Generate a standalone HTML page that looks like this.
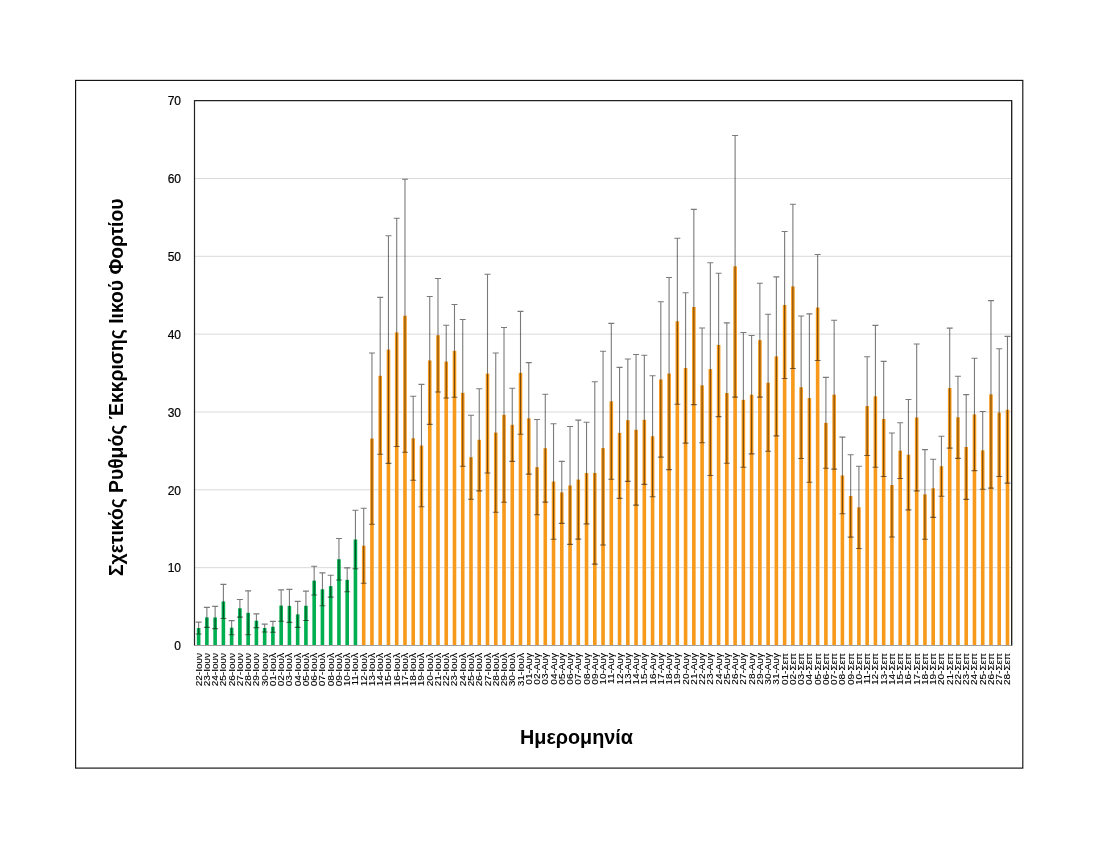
<!DOCTYPE html><html><head><meta charset="utf-8"><style>html,body{margin:0;padding:0;background:#fff;}svg{display:block;will-change:transform;}text{font-family:"Liberation Sans",sans-serif;}</style></head><body>
<svg width="1100" height="850" viewBox="0 0 1100 850">
<rect x="0" y="0" width="1100" height="850" fill="#fff"/>
<rect x="75.6" y="80.4" width="947.1999999999999" height="687.7" fill="none" stroke="#111" stroke-width="1.15"/>
<line x1="194.50" y1="567.66" x2="1011.60" y2="567.66" stroke="#d9d9d9" stroke-width="1"/>
<line x1="194.50" y1="489.81" x2="1011.60" y2="489.81" stroke="#d9d9d9" stroke-width="1"/>
<line x1="194.50" y1="411.97" x2="1011.60" y2="411.97" stroke="#d9d9d9" stroke-width="1"/>
<line x1="194.50" y1="334.13" x2="1011.60" y2="334.13" stroke="#d9d9d9" stroke-width="1"/>
<line x1="194.50" y1="256.29" x2="1011.60" y2="256.29" stroke="#d9d9d9" stroke-width="1"/>
<line x1="194.50" y1="178.44" x2="1011.60" y2="178.44" stroke="#d9d9d9" stroke-width="1"/>
<rect x="196.83" y="628.05" width="3.60" height="17.45" fill="#00b050"/>
<rect x="205.08" y="617.40" width="3.60" height="28.10" fill="#00b050"/>
<rect x="213.33" y="617.50" width="3.60" height="28.00" fill="#00b050"/>
<rect x="221.59" y="601.45" width="3.60" height="44.05" fill="#00b050"/>
<rect x="229.84" y="627.70" width="3.60" height="17.80" fill="#00b050"/>
<rect x="238.09" y="608.30" width="3.60" height="37.20" fill="#00b050"/>
<rect x="246.35" y="612.85" width="3.60" height="32.65" fill="#00b050"/>
<rect x="254.60" y="620.73" width="3.60" height="24.77" fill="#00b050"/>
<rect x="262.86" y="628.05" width="3.60" height="17.45" fill="#00b050"/>
<rect x="271.11" y="626.80" width="3.60" height="18.70" fill="#00b050"/>
<rect x="279.36" y="605.60" width="3.60" height="39.90" fill="#00b050"/>
<rect x="287.62" y="605.90" width="3.60" height="39.60" fill="#00b050"/>
<rect x="295.87" y="614.40" width="3.60" height="31.10" fill="#00b050"/>
<rect x="304.12" y="605.80" width="3.60" height="39.70" fill="#00b050"/>
<rect x="312.38" y="580.65" width="3.60" height="64.85" fill="#00b050"/>
<rect x="320.63" y="589.30" width="3.60" height="56.20" fill="#00b050"/>
<rect x="328.88" y="586.15" width="3.60" height="59.35" fill="#00b050"/>
<rect x="337.14" y="559.25" width="3.60" height="86.25" fill="#00b050"/>
<rect x="345.39" y="579.85" width="3.60" height="65.65" fill="#00b050"/>
<rect x="353.64" y="539.50" width="3.60" height="106.00" fill="#00b050"/>
<rect x="361.90" y="545.75" width="3.60" height="99.75" fill="#f7991a"/>
<rect x="370.15" y="438.60" width="3.60" height="206.90" fill="#f7991a"/>
<rect x="378.40" y="375.80" width="3.60" height="269.70" fill="#f7991a"/>
<rect x="386.66" y="349.60" width="3.60" height="295.90" fill="#f7991a"/>
<rect x="394.91" y="332.40" width="3.60" height="313.10" fill="#f7991a"/>
<rect x="403.17" y="315.75" width="3.60" height="329.75" fill="#f7991a"/>
<rect x="411.42" y="438.30" width="3.60" height="207.20" fill="#f7991a"/>
<rect x="419.67" y="445.55" width="3.60" height="199.95" fill="#f7991a"/>
<rect x="427.93" y="360.45" width="3.60" height="285.05" fill="#f7991a"/>
<rect x="436.18" y="335.25" width="3.60" height="310.25" fill="#f7991a"/>
<rect x="444.43" y="361.60" width="3.60" height="283.90" fill="#f7991a"/>
<rect x="452.69" y="350.85" width="3.60" height="294.65" fill="#f7991a"/>
<rect x="460.94" y="392.85" width="3.60" height="252.65" fill="#f7991a"/>
<rect x="469.19" y="457.20" width="3.60" height="188.30" fill="#f7991a"/>
<rect x="477.45" y="439.80" width="3.60" height="205.70" fill="#f7991a"/>
<rect x="485.70" y="373.65" width="3.60" height="271.85" fill="#f7991a"/>
<rect x="493.95" y="432.60" width="3.60" height="212.90" fill="#f7991a"/>
<rect x="502.21" y="414.90" width="3.60" height="230.60" fill="#f7991a"/>
<rect x="510.46" y="424.85" width="3.60" height="220.65" fill="#f7991a"/>
<rect x="518.71" y="372.85" width="3.60" height="272.65" fill="#f7991a"/>
<rect x="526.97" y="418.35" width="3.60" height="227.15" fill="#f7991a"/>
<rect x="535.22" y="467.15" width="3.60" height="178.35" fill="#f7991a"/>
<rect x="543.48" y="448.20" width="3.60" height="197.30" fill="#f7991a"/>
<rect x="551.73" y="481.50" width="3.60" height="164.00" fill="#f7991a"/>
<rect x="559.98" y="492.40" width="3.60" height="153.10" fill="#f7991a"/>
<rect x="568.24" y="485.45" width="3.60" height="160.05" fill="#f7991a"/>
<rect x="576.49" y="479.60" width="3.60" height="165.90" fill="#f7991a"/>
<rect x="584.74" y="473.05" width="3.60" height="172.45" fill="#f7991a"/>
<rect x="593.00" y="472.95" width="3.60" height="172.55" fill="#f7991a"/>
<rect x="601.25" y="448.10" width="3.60" height="197.40" fill="#f7991a"/>
<rect x="609.50" y="401.30" width="3.60" height="244.20" fill="#f7991a"/>
<rect x="617.76" y="432.90" width="3.60" height="212.60" fill="#f7991a"/>
<rect x="626.01" y="420.20" width="3.60" height="225.30" fill="#f7991a"/>
<rect x="634.26" y="429.80" width="3.60" height="215.70" fill="#f7991a"/>
<rect x="642.52" y="419.80" width="3.60" height="225.70" fill="#f7991a"/>
<rect x="650.77" y="436.25" width="3.60" height="209.25" fill="#f7991a"/>
<rect x="659.02" y="379.45" width="3.60" height="266.05" fill="#f7991a"/>
<rect x="667.28" y="373.55" width="3.60" height="271.95" fill="#f7991a"/>
<rect x="675.53" y="321.25" width="3.60" height="324.25" fill="#f7991a"/>
<rect x="683.79" y="367.95" width="3.60" height="277.55" fill="#f7991a"/>
<rect x="692.04" y="307.00" width="3.60" height="338.50" fill="#f7991a"/>
<rect x="700.29" y="385.35" width="3.60" height="260.15" fill="#f7991a"/>
<rect x="708.55" y="369.15" width="3.60" height="276.35" fill="#f7991a"/>
<rect x="716.80" y="344.90" width="3.60" height="300.60" fill="#f7991a"/>
<rect x="725.05" y="393.05" width="3.60" height="252.45" fill="#f7991a"/>
<rect x="733.31" y="266.30" width="3.60" height="379.20" fill="#f7991a"/>
<rect x="741.56" y="399.85" width="3.60" height="245.65" fill="#f7991a"/>
<rect x="749.81" y="394.70" width="3.60" height="250.80" fill="#f7991a"/>
<rect x="758.07" y="340.15" width="3.60" height="305.35" fill="#f7991a"/>
<rect x="766.32" y="382.75" width="3.60" height="262.75" fill="#f7991a"/>
<rect x="774.57" y="356.40" width="3.60" height="289.10" fill="#f7991a"/>
<rect x="782.83" y="305.00" width="3.60" height="340.50" fill="#f7991a"/>
<rect x="791.08" y="286.40" width="3.60" height="359.10" fill="#f7991a"/>
<rect x="799.33" y="387.25" width="3.60" height="258.25" fill="#f7991a"/>
<rect x="807.59" y="398.05" width="3.60" height="247.45" fill="#f7991a"/>
<rect x="815.84" y="307.50" width="3.60" height="338.00" fill="#f7991a"/>
<rect x="824.10" y="422.85" width="3.60" height="222.65" fill="#f7991a"/>
<rect x="832.35" y="394.65" width="3.60" height="250.85" fill="#f7991a"/>
<rect x="840.60" y="475.45" width="3.60" height="170.05" fill="#f7991a"/>
<rect x="848.86" y="495.95" width="3.60" height="149.55" fill="#f7991a"/>
<rect x="857.11" y="507.35" width="3.60" height="138.15" fill="#f7991a"/>
<rect x="865.36" y="406.10" width="3.60" height="239.40" fill="#f7991a"/>
<rect x="873.62" y="396.30" width="3.60" height="249.20" fill="#f7991a"/>
<rect x="881.87" y="418.95" width="3.60" height="226.55" fill="#f7991a"/>
<rect x="890.12" y="485.00" width="3.60" height="160.50" fill="#f7991a"/>
<rect x="898.38" y="450.65" width="3.60" height="194.85" fill="#f7991a"/>
<rect x="906.63" y="454.70" width="3.60" height="190.80" fill="#f7991a"/>
<rect x="914.88" y="417.45" width="3.60" height="228.05" fill="#f7991a"/>
<rect x="923.14" y="494.40" width="3.60" height="151.10" fill="#f7991a"/>
<rect x="931.39" y="488.30" width="3.60" height="157.20" fill="#f7991a"/>
<rect x="939.64" y="466.20" width="3.60" height="179.30" fill="#f7991a"/>
<rect x="947.90" y="388.10" width="3.60" height="257.40" fill="#f7991a"/>
<rect x="956.15" y="417.30" width="3.60" height="228.20" fill="#f7991a"/>
<rect x="964.41" y="447.00" width="3.60" height="198.50" fill="#f7991a"/>
<rect x="972.66" y="414.40" width="3.60" height="231.10" fill="#f7991a"/>
<rect x="980.91" y="450.35" width="3.60" height="195.15" fill="#f7991a"/>
<rect x="989.17" y="394.35" width="3.60" height="251.15" fill="#f7991a"/>
<rect x="997.42" y="412.60" width="3.60" height="232.90" fill="#f7991a"/>
<rect x="1005.67" y="409.75" width="3.60" height="235.75" fill="#f7991a"/>
<path d="M198.63 622.10V634.00M195.63 622.10H201.63M195.63 634.00H201.63" stroke="#000" stroke-opacity="0.52" stroke-width="1.1" fill="none"/>
<path d="M206.88 607.40V627.40M203.88 607.40H209.88M203.88 627.40H209.88" stroke="#000" stroke-opacity="0.52" stroke-width="1.1" fill="none"/>
<path d="M215.13 606.40V628.60M212.13 606.40H218.13M212.13 628.60H218.13" stroke="#000" stroke-opacity="0.52" stroke-width="1.1" fill="none"/>
<path d="M223.39 584.40V618.50M220.39 584.40H226.39M220.39 618.50H226.39" stroke="#000" stroke-opacity="0.52" stroke-width="1.1" fill="none"/>
<path d="M231.64 620.60V634.80M228.64 620.60H234.64M228.64 634.80H234.64" stroke="#000" stroke-opacity="0.52" stroke-width="1.1" fill="none"/>
<path d="M239.89 599.50V617.10M236.89 599.50H242.89M236.89 617.10H242.89" stroke="#000" stroke-opacity="0.52" stroke-width="1.1" fill="none"/>
<path d="M248.15 590.90V634.80M245.15 590.90H251.15M245.15 634.80H251.15" stroke="#000" stroke-opacity="0.52" stroke-width="1.1" fill="none"/>
<path d="M256.40 613.85V627.60M253.40 613.85H259.40M253.40 627.60H259.40" stroke="#000" stroke-opacity="0.52" stroke-width="1.1" fill="none"/>
<path d="M264.66 624.10V632.00M261.66 624.10H267.66M261.66 632.00H267.66" stroke="#000" stroke-opacity="0.52" stroke-width="1.1" fill="none"/>
<path d="M272.91 621.40V632.20M269.91 621.40H275.91M269.91 632.20H275.91" stroke="#000" stroke-opacity="0.52" stroke-width="1.1" fill="none"/>
<path d="M281.16 589.90V621.30M278.16 589.90H284.16M278.16 621.30H284.16" stroke="#000" stroke-opacity="0.52" stroke-width="1.1" fill="none"/>
<path d="M289.42 589.40V622.40M286.42 589.40H292.42M286.42 622.40H292.42" stroke="#000" stroke-opacity="0.52" stroke-width="1.1" fill="none"/>
<path d="M297.67 601.40V627.40M294.67 601.40H300.67M294.67 627.40H300.67" stroke="#000" stroke-opacity="0.52" stroke-width="1.1" fill="none"/>
<path d="M305.92 591.10V620.50M302.92 591.10H308.92M302.92 620.50H308.92" stroke="#000" stroke-opacity="0.52" stroke-width="1.1" fill="none"/>
<path d="M314.18 566.30V595.00M311.18 566.30H317.18M311.18 595.00H317.18" stroke="#000" stroke-opacity="0.52" stroke-width="1.1" fill="none"/>
<path d="M322.43 572.90V605.70M319.43 572.90H325.43M319.43 605.70H325.43" stroke="#000" stroke-opacity="0.52" stroke-width="1.1" fill="none"/>
<path d="M330.68 575.20V597.10M327.68 575.20H333.68M327.68 597.10H333.68" stroke="#000" stroke-opacity="0.52" stroke-width="1.1" fill="none"/>
<path d="M338.94 538.50V580.00M335.94 538.50H341.94M335.94 580.00H341.94" stroke="#000" stroke-opacity="0.52" stroke-width="1.1" fill="none"/>
<path d="M347.19 567.90V591.80M344.19 567.90H350.19M344.19 591.80H350.19" stroke="#000" stroke-opacity="0.52" stroke-width="1.1" fill="none"/>
<path d="M355.44 510.20V568.80M352.44 510.20H358.44M352.44 568.80H358.44" stroke="#000" stroke-opacity="0.52" stroke-width="1.1" fill="none"/>
<path d="M363.70 508.20V583.30M360.70 508.20H366.70M360.70 583.30H366.70" stroke="#000" stroke-opacity="0.52" stroke-width="1.1" fill="none"/>
<path d="M371.95 353.00V524.20M368.95 353.00H374.95M368.95 524.20H374.95" stroke="#000" stroke-opacity="0.52" stroke-width="1.1" fill="none"/>
<path d="M380.20 297.40V454.20M377.20 297.40H383.20M377.20 454.20H383.20" stroke="#000" stroke-opacity="0.52" stroke-width="1.1" fill="none"/>
<path d="M388.46 235.80V463.40M385.46 235.80H391.46M385.46 463.40H391.46" stroke="#000" stroke-opacity="0.52" stroke-width="1.1" fill="none"/>
<path d="M396.71 218.30V446.50M393.71 218.30H399.71M393.71 446.50H399.71" stroke="#000" stroke-opacity="0.52" stroke-width="1.1" fill="none"/>
<path d="M404.97 179.20V452.30M401.97 179.20H407.97M401.97 452.30H407.97" stroke="#000" stroke-opacity="0.52" stroke-width="1.1" fill="none"/>
<path d="M413.22 396.30V480.30M410.22 396.30H416.22M410.22 480.30H416.22" stroke="#000" stroke-opacity="0.52" stroke-width="1.1" fill="none"/>
<path d="M421.47 384.40V506.70M418.47 384.40H424.47M418.47 506.70H424.47" stroke="#000" stroke-opacity="0.52" stroke-width="1.1" fill="none"/>
<path d="M429.73 296.50V424.40M426.73 296.50H432.73M426.73 424.40H432.73" stroke="#000" stroke-opacity="0.52" stroke-width="1.1" fill="none"/>
<path d="M437.98 278.50V392.00M434.98 278.50H440.98M434.98 392.00H440.98" stroke="#000" stroke-opacity="0.52" stroke-width="1.1" fill="none"/>
<path d="M446.23 325.20V398.00M443.23 325.20H449.23M443.23 398.00H449.23" stroke="#000" stroke-opacity="0.52" stroke-width="1.1" fill="none"/>
<path d="M454.49 304.50V397.20M451.49 304.50H457.49M451.49 397.20H457.49" stroke="#000" stroke-opacity="0.52" stroke-width="1.1" fill="none"/>
<path d="M462.74 319.50V466.20M459.74 319.50H465.74M459.74 466.20H465.74" stroke="#000" stroke-opacity="0.52" stroke-width="1.1" fill="none"/>
<path d="M470.99 415.20V499.20M467.99 415.20H473.99M467.99 499.20H473.99" stroke="#000" stroke-opacity="0.52" stroke-width="1.1" fill="none"/>
<path d="M479.25 388.70V490.90M476.25 388.70H482.25M476.25 490.90H482.25" stroke="#000" stroke-opacity="0.52" stroke-width="1.1" fill="none"/>
<path d="M487.50 274.30V473.00M484.50 274.30H490.50M484.50 473.00H490.50" stroke="#000" stroke-opacity="0.52" stroke-width="1.1" fill="none"/>
<path d="M495.75 353.00V512.20M492.75 353.00H498.75M492.75 512.20H498.75" stroke="#000" stroke-opacity="0.52" stroke-width="1.1" fill="none"/>
<path d="M504.01 327.50V502.30M501.01 327.50H507.01M501.01 502.30H507.01" stroke="#000" stroke-opacity="0.52" stroke-width="1.1" fill="none"/>
<path d="M512.26 388.30V461.40M509.26 388.30H515.26M509.26 461.40H515.26" stroke="#000" stroke-opacity="0.52" stroke-width="1.1" fill="none"/>
<path d="M520.51 311.40V434.30M517.51 311.40H523.51M517.51 434.30H523.51" stroke="#000" stroke-opacity="0.52" stroke-width="1.1" fill="none"/>
<path d="M528.77 362.60V474.10M525.77 362.60H531.77M525.77 474.10H531.77" stroke="#000" stroke-opacity="0.52" stroke-width="1.1" fill="none"/>
<path d="M537.02 419.50V514.80M534.02 419.50H540.02M534.02 514.80H540.02" stroke="#000" stroke-opacity="0.52" stroke-width="1.1" fill="none"/>
<path d="M545.28 394.30V502.10M542.28 394.30H548.28M542.28 502.10H548.28" stroke="#000" stroke-opacity="0.52" stroke-width="1.1" fill="none"/>
<path d="M553.53 423.70V539.30M550.53 423.70H556.53M550.53 539.30H556.53" stroke="#000" stroke-opacity="0.52" stroke-width="1.1" fill="none"/>
<path d="M561.78 461.40V523.40M558.78 461.40H564.78M558.78 523.40H564.78" stroke="#000" stroke-opacity="0.52" stroke-width="1.1" fill="none"/>
<path d="M570.04 426.50V544.40M567.04 426.50H573.04M567.04 544.40H573.04" stroke="#000" stroke-opacity="0.52" stroke-width="1.1" fill="none"/>
<path d="M578.29 420.10V539.10M575.29 420.10H581.29M575.29 539.10H581.29" stroke="#000" stroke-opacity="0.52" stroke-width="1.1" fill="none"/>
<path d="M586.54 422.20V523.90M583.54 422.20H589.54M583.54 523.90H589.54" stroke="#000" stroke-opacity="0.52" stroke-width="1.1" fill="none"/>
<path d="M594.80 381.80V564.10M591.80 381.80H597.80M591.80 564.10H597.80" stroke="#000" stroke-opacity="0.52" stroke-width="1.1" fill="none"/>
<path d="M603.05 351.20V545.00M600.05 351.20H606.05M600.05 545.00H606.05" stroke="#000" stroke-opacity="0.52" stroke-width="1.1" fill="none"/>
<path d="M611.30 323.40V479.20M608.30 323.40H614.30M608.30 479.20H614.30" stroke="#000" stroke-opacity="0.52" stroke-width="1.1" fill="none"/>
<path d="M619.56 367.40V498.40M616.56 367.40H622.56M616.56 498.40H622.56" stroke="#000" stroke-opacity="0.52" stroke-width="1.1" fill="none"/>
<path d="M627.81 359.00V481.40M624.81 359.00H630.81M624.81 481.40H630.81" stroke="#000" stroke-opacity="0.52" stroke-width="1.1" fill="none"/>
<path d="M636.06 354.50V505.10M633.06 354.50H639.06M633.06 505.10H639.06" stroke="#000" stroke-opacity="0.52" stroke-width="1.1" fill="none"/>
<path d="M644.32 355.20V484.40M641.32 355.20H647.32M641.32 484.40H647.32" stroke="#000" stroke-opacity="0.52" stroke-width="1.1" fill="none"/>
<path d="M652.57 375.80V496.70M649.57 375.80H655.57M649.57 496.70H655.57" stroke="#000" stroke-opacity="0.52" stroke-width="1.1" fill="none"/>
<path d="M660.82 301.80V457.10M657.82 301.80H663.82M657.82 457.10H663.82" stroke="#000" stroke-opacity="0.52" stroke-width="1.1" fill="none"/>
<path d="M669.08 277.50V469.60M666.08 277.50H672.08M666.08 469.60H672.08" stroke="#000" stroke-opacity="0.52" stroke-width="1.1" fill="none"/>
<path d="M677.33 238.30V404.20M674.33 238.30H680.33M674.33 404.20H680.33" stroke="#000" stroke-opacity="0.52" stroke-width="1.1" fill="none"/>
<path d="M685.59 292.80V443.10M682.59 292.80H688.59M682.59 443.10H688.59" stroke="#000" stroke-opacity="0.52" stroke-width="1.1" fill="none"/>
<path d="M693.84 209.40V404.60M690.84 209.40H696.84M690.84 404.60H696.84" stroke="#000" stroke-opacity="0.52" stroke-width="1.1" fill="none"/>
<path d="M702.09 328.00V442.70M699.09 328.00H705.09M699.09 442.70H705.09" stroke="#000" stroke-opacity="0.52" stroke-width="1.1" fill="none"/>
<path d="M710.35 262.80V475.50M707.35 262.80H713.35M707.35 475.50H713.35" stroke="#000" stroke-opacity="0.52" stroke-width="1.1" fill="none"/>
<path d="M718.60 273.20V416.60M715.60 273.20H721.60M715.60 416.60H721.60" stroke="#000" stroke-opacity="0.52" stroke-width="1.1" fill="none"/>
<path d="M726.85 322.90V463.20M723.85 322.90H729.85M723.85 463.20H729.85" stroke="#000" stroke-opacity="0.52" stroke-width="1.1" fill="none"/>
<path d="M735.11 135.50V397.10M732.11 135.50H738.11M732.11 397.10H738.11" stroke="#000" stroke-opacity="0.52" stroke-width="1.1" fill="none"/>
<path d="M743.36 332.50V467.20M740.36 332.50H746.36M740.36 467.20H746.36" stroke="#000" stroke-opacity="0.52" stroke-width="1.1" fill="none"/>
<path d="M751.61 335.50V453.90M748.61 335.50H754.61M748.61 453.90H754.61" stroke="#000" stroke-opacity="0.52" stroke-width="1.1" fill="none"/>
<path d="M759.87 283.20V397.10M756.87 283.20H762.87M756.87 397.10H762.87" stroke="#000" stroke-opacity="0.52" stroke-width="1.1" fill="none"/>
<path d="M768.12 314.30V451.20M765.12 314.30H771.12M765.12 451.20H771.12" stroke="#000" stroke-opacity="0.52" stroke-width="1.1" fill="none"/>
<path d="M776.37 276.90V435.90M773.37 276.90H779.37M773.37 435.90H779.37" stroke="#000" stroke-opacity="0.52" stroke-width="1.1" fill="none"/>
<path d="M784.63 231.50V378.50M781.63 231.50H787.63M781.63 378.50H787.63" stroke="#000" stroke-opacity="0.52" stroke-width="1.1" fill="none"/>
<path d="M792.88 204.30V368.50M789.88 204.30H795.88M789.88 368.50H795.88" stroke="#000" stroke-opacity="0.52" stroke-width="1.1" fill="none"/>
<path d="M801.13 316.00V458.50M798.13 316.00H804.13M798.13 458.50H804.13" stroke="#000" stroke-opacity="0.52" stroke-width="1.1" fill="none"/>
<path d="M809.39 313.90V482.20M806.39 313.90H812.39M806.39 482.20H812.39" stroke="#000" stroke-opacity="0.52" stroke-width="1.1" fill="none"/>
<path d="M817.64 254.50V360.50M814.64 254.50H820.64M814.64 360.50H820.64" stroke="#000" stroke-opacity="0.52" stroke-width="1.1" fill="none"/>
<path d="M825.90 377.40V468.30M822.90 377.40H828.90M822.90 468.30H828.90" stroke="#000" stroke-opacity="0.52" stroke-width="1.1" fill="none"/>
<path d="M834.15 320.20V469.10M831.15 320.20H837.15M831.15 469.10H837.15" stroke="#000" stroke-opacity="0.52" stroke-width="1.1" fill="none"/>
<path d="M842.40 437.10V513.80M839.40 437.10H845.40M839.40 513.80H845.40" stroke="#000" stroke-opacity="0.52" stroke-width="1.1" fill="none"/>
<path d="M850.66 454.80V537.10M847.66 454.80H853.66M847.66 537.10H853.66" stroke="#000" stroke-opacity="0.52" stroke-width="1.1" fill="none"/>
<path d="M858.91 466.20V548.50M855.91 466.20H861.91M855.91 548.50H861.91" stroke="#000" stroke-opacity="0.52" stroke-width="1.1" fill="none"/>
<path d="M867.16 356.70V455.50M864.16 356.70H870.16M864.16 455.50H870.16" stroke="#000" stroke-opacity="0.52" stroke-width="1.1" fill="none"/>
<path d="M875.42 325.40V467.20M872.42 325.40H878.42M872.42 467.20H878.42" stroke="#000" stroke-opacity="0.52" stroke-width="1.1" fill="none"/>
<path d="M883.67 361.40V476.50M880.67 361.40H886.67M880.67 476.50H886.67" stroke="#000" stroke-opacity="0.52" stroke-width="1.1" fill="none"/>
<path d="M891.92 433.00V537.00M888.92 433.00H894.92M888.92 537.00H894.92" stroke="#000" stroke-opacity="0.52" stroke-width="1.1" fill="none"/>
<path d="M900.18 422.80V478.50M897.18 422.80H903.18M897.18 478.50H903.18" stroke="#000" stroke-opacity="0.52" stroke-width="1.1" fill="none"/>
<path d="M908.43 399.50V509.90M905.43 399.50H911.43M905.43 509.90H911.43" stroke="#000" stroke-opacity="0.52" stroke-width="1.1" fill="none"/>
<path d="M916.68 344.00V490.90M913.68 344.00H919.68M913.68 490.90H919.68" stroke="#000" stroke-opacity="0.52" stroke-width="1.1" fill="none"/>
<path d="M924.94 449.60V539.20M921.94 449.60H927.94M921.94 539.20H927.94" stroke="#000" stroke-opacity="0.52" stroke-width="1.1" fill="none"/>
<path d="M933.19 459.20V517.40M930.19 459.20H936.19M930.19 517.40H936.19" stroke="#000" stroke-opacity="0.52" stroke-width="1.1" fill="none"/>
<path d="M941.44 436.20V496.20M938.44 436.20H944.44M938.44 496.20H944.44" stroke="#000" stroke-opacity="0.52" stroke-width="1.1" fill="none"/>
<path d="M949.70 328.10V448.10M946.70 328.10H952.70M946.70 448.10H952.70" stroke="#000" stroke-opacity="0.52" stroke-width="1.1" fill="none"/>
<path d="M957.95 376.20V458.40M954.95 376.20H960.95M954.95 458.40H960.95" stroke="#000" stroke-opacity="0.52" stroke-width="1.1" fill="none"/>
<path d="M966.21 394.60V499.40M963.21 394.60H969.21M963.21 499.40H969.21" stroke="#000" stroke-opacity="0.52" stroke-width="1.1" fill="none"/>
<path d="M974.46 358.20V470.60M971.46 358.20H977.46M971.46 470.60H977.46" stroke="#000" stroke-opacity="0.52" stroke-width="1.1" fill="none"/>
<path d="M982.71 411.50V489.20M979.71 411.50H985.71M979.71 489.20H985.71" stroke="#000" stroke-opacity="0.52" stroke-width="1.1" fill="none"/>
<path d="M990.97 300.60V488.10M987.97 300.60H993.97M987.97 488.10H993.97" stroke="#000" stroke-opacity="0.52" stroke-width="1.1" fill="none"/>
<path d="M999.22 348.70V476.50M996.22 348.70H1002.22M996.22 476.50H1002.22" stroke="#000" stroke-opacity="0.52" stroke-width="1.1" fill="none"/>
<path d="M1007.47 336.40V483.10M1004.47 336.40H1010.47M1004.47 483.10H1010.47" stroke="#000" stroke-opacity="0.52" stroke-width="1.1" fill="none"/>
<path d="M194.50 645.50H1011.60V100.60" stroke="#222" stroke-width="1.2" fill="none"/>
<path d="M194.50 645.50V100.60H1011.60V645.50" stroke="#222" stroke-width="1.2" fill="none"/>
<line x1="194.50" y1="645.50" x2="1011.60" y2="645.50" stroke="#a0a0a0" stroke-width="1.2"/>
<text x="181.00" y="650.20" font-size="12" text-anchor="end" fill="#000" stroke="#000" stroke-width="0.2">0</text>
<text x="181.00" y="572.36" font-size="12" text-anchor="end" fill="#000" stroke="#000" stroke-width="0.2">10</text>
<text x="181.00" y="494.51" font-size="12" text-anchor="end" fill="#000" stroke="#000" stroke-width="0.2">20</text>
<text x="181.00" y="416.67" font-size="12" text-anchor="end" fill="#000" stroke="#000" stroke-width="0.2">30</text>
<text x="181.00" y="338.83" font-size="12" text-anchor="end" fill="#000" stroke="#000" stroke-width="0.2">40</text>
<text x="181.00" y="260.99" font-size="12" text-anchor="end" fill="#000" stroke="#000" stroke-width="0.2">50</text>
<text x="181.00" y="183.14" font-size="12" text-anchor="end" fill="#000" stroke="#000" stroke-width="0.2">60</text>
<text x="181.00" y="105.30" font-size="12" text-anchor="end" fill="#000" stroke="#000" stroke-width="0.2">70</text>
<text transform="translate(201.63 653.00) rotate(-90) scale(1.08 1)" font-size="9.3" text-anchor="end" fill="#000" stroke="#000" stroke-width="0.1">22-Ιουν</text>
<text transform="translate(209.88 653.00) rotate(-90) scale(1.08 1)" font-size="9.3" text-anchor="end" fill="#000" stroke="#000" stroke-width="0.1">23-Ιουν</text>
<text transform="translate(218.13 653.00) rotate(-90) scale(1.08 1)" font-size="9.3" text-anchor="end" fill="#000" stroke="#000" stroke-width="0.1">24-Ιουν</text>
<text transform="translate(226.39 653.00) rotate(-90) scale(1.08 1)" font-size="9.3" text-anchor="end" fill="#000" stroke="#000" stroke-width="0.1">25-Ιουν</text>
<text transform="translate(234.64 653.00) rotate(-90) scale(1.08 1)" font-size="9.3" text-anchor="end" fill="#000" stroke="#000" stroke-width="0.1">26-Ιουν</text>
<text transform="translate(242.89 653.00) rotate(-90) scale(1.08 1)" font-size="9.3" text-anchor="end" fill="#000" stroke="#000" stroke-width="0.1">27-Ιουν</text>
<text transform="translate(251.15 653.00) rotate(-90) scale(1.08 1)" font-size="9.3" text-anchor="end" fill="#000" stroke="#000" stroke-width="0.1">28-Ιουν</text>
<text transform="translate(259.40 653.00) rotate(-90) scale(1.08 1)" font-size="9.3" text-anchor="end" fill="#000" stroke="#000" stroke-width="0.1">29-Ιουν</text>
<text transform="translate(267.66 653.00) rotate(-90) scale(1.08 1)" font-size="9.3" text-anchor="end" fill="#000" stroke="#000" stroke-width="0.1">30-Ιουν</text>
<text transform="translate(275.91 653.00) rotate(-90) scale(1.08 1)" font-size="9.3" text-anchor="end" fill="#000" stroke="#000" stroke-width="0.1">01-Ιουλ</text>
<text transform="translate(284.16 653.00) rotate(-90) scale(1.08 1)" font-size="9.3" text-anchor="end" fill="#000" stroke="#000" stroke-width="0.1">02-Ιουλ</text>
<text transform="translate(292.42 653.00) rotate(-90) scale(1.08 1)" font-size="9.3" text-anchor="end" fill="#000" stroke="#000" stroke-width="0.1">03-Ιουλ</text>
<text transform="translate(300.67 653.00) rotate(-90) scale(1.08 1)" font-size="9.3" text-anchor="end" fill="#000" stroke="#000" stroke-width="0.1">04-Ιουλ</text>
<text transform="translate(308.92 653.00) rotate(-90) scale(1.08 1)" font-size="9.3" text-anchor="end" fill="#000" stroke="#000" stroke-width="0.1">05-Ιουλ</text>
<text transform="translate(317.18 653.00) rotate(-90) scale(1.08 1)" font-size="9.3" text-anchor="end" fill="#000" stroke="#000" stroke-width="0.1">06-Ιουλ</text>
<text transform="translate(325.43 653.00) rotate(-90) scale(1.08 1)" font-size="9.3" text-anchor="end" fill="#000" stroke="#000" stroke-width="0.1">07-Ιουλ</text>
<text transform="translate(333.68 653.00) rotate(-90) scale(1.08 1)" font-size="9.3" text-anchor="end" fill="#000" stroke="#000" stroke-width="0.1">08-Ιουλ</text>
<text transform="translate(341.94 653.00) rotate(-90) scale(1.08 1)" font-size="9.3" text-anchor="end" fill="#000" stroke="#000" stroke-width="0.1">09-Ιουλ</text>
<text transform="translate(350.19 653.00) rotate(-90) scale(1.08 1)" font-size="9.3" text-anchor="end" fill="#000" stroke="#000" stroke-width="0.1">10-Ιουλ</text>
<text transform="translate(358.44 653.00) rotate(-90) scale(1.08 1)" font-size="9.3" text-anchor="end" fill="#000" stroke="#000" stroke-width="0.1">11-Ιουλ</text>
<text transform="translate(366.70 653.00) rotate(-90) scale(1.08 1)" font-size="9.3" text-anchor="end" fill="#000" stroke="#000" stroke-width="0.1">12-Ιουλ</text>
<text transform="translate(374.95 653.00) rotate(-90) scale(1.08 1)" font-size="9.3" text-anchor="end" fill="#000" stroke="#000" stroke-width="0.1">13-Ιουλ</text>
<text transform="translate(383.20 653.00) rotate(-90) scale(1.08 1)" font-size="9.3" text-anchor="end" fill="#000" stroke="#000" stroke-width="0.1">14-Ιουλ</text>
<text transform="translate(391.46 653.00) rotate(-90) scale(1.08 1)" font-size="9.3" text-anchor="end" fill="#000" stroke="#000" stroke-width="0.1">15-Ιουλ</text>
<text transform="translate(399.71 653.00) rotate(-90) scale(1.08 1)" font-size="9.3" text-anchor="end" fill="#000" stroke="#000" stroke-width="0.1">16-Ιουλ</text>
<text transform="translate(407.97 653.00) rotate(-90) scale(1.08 1)" font-size="9.3" text-anchor="end" fill="#000" stroke="#000" stroke-width="0.1">17-Ιουλ</text>
<text transform="translate(416.22 653.00) rotate(-90) scale(1.08 1)" font-size="9.3" text-anchor="end" fill="#000" stroke="#000" stroke-width="0.1">18-Ιουλ</text>
<text transform="translate(424.47 653.00) rotate(-90) scale(1.08 1)" font-size="9.3" text-anchor="end" fill="#000" stroke="#000" stroke-width="0.1">19-Ιουλ</text>
<text transform="translate(432.73 653.00) rotate(-90) scale(1.08 1)" font-size="9.3" text-anchor="end" fill="#000" stroke="#000" stroke-width="0.1">20-Ιουλ</text>
<text transform="translate(440.98 653.00) rotate(-90) scale(1.08 1)" font-size="9.3" text-anchor="end" fill="#000" stroke="#000" stroke-width="0.1">21-Ιουλ</text>
<text transform="translate(449.23 653.00) rotate(-90) scale(1.08 1)" font-size="9.3" text-anchor="end" fill="#000" stroke="#000" stroke-width="0.1">22-Ιουλ</text>
<text transform="translate(457.49 653.00) rotate(-90) scale(1.08 1)" font-size="9.3" text-anchor="end" fill="#000" stroke="#000" stroke-width="0.1">23-Ιουλ</text>
<text transform="translate(465.74 653.00) rotate(-90) scale(1.08 1)" font-size="9.3" text-anchor="end" fill="#000" stroke="#000" stroke-width="0.1">24-Ιουλ</text>
<text transform="translate(473.99 653.00) rotate(-90) scale(1.08 1)" font-size="9.3" text-anchor="end" fill="#000" stroke="#000" stroke-width="0.1">25-Ιουλ</text>
<text transform="translate(482.25 653.00) rotate(-90) scale(1.08 1)" font-size="9.3" text-anchor="end" fill="#000" stroke="#000" stroke-width="0.1">26-Ιουλ</text>
<text transform="translate(490.50 653.00) rotate(-90) scale(1.08 1)" font-size="9.3" text-anchor="end" fill="#000" stroke="#000" stroke-width="0.1">27-Ιουλ</text>
<text transform="translate(498.75 653.00) rotate(-90) scale(1.08 1)" font-size="9.3" text-anchor="end" fill="#000" stroke="#000" stroke-width="0.1">28-Ιουλ</text>
<text transform="translate(507.01 653.00) rotate(-90) scale(1.08 1)" font-size="9.3" text-anchor="end" fill="#000" stroke="#000" stroke-width="0.1">29-Ιουλ</text>
<text transform="translate(515.26 653.00) rotate(-90) scale(1.08 1)" font-size="9.3" text-anchor="end" fill="#000" stroke="#000" stroke-width="0.1">30-Ιουλ</text>
<text transform="translate(523.51 653.00) rotate(-90) scale(1.08 1)" font-size="9.3" text-anchor="end" fill="#000" stroke="#000" stroke-width="0.1">31-Ιουλ</text>
<text transform="translate(531.77 653.00) rotate(-90) scale(1.08 1)" font-size="9.3" text-anchor="end" fill="#000" stroke="#000" stroke-width="0.1">01-Αυγ</text>
<text transform="translate(540.02 653.00) rotate(-90) scale(1.08 1)" font-size="9.3" text-anchor="end" fill="#000" stroke="#000" stroke-width="0.1">02-Αυγ</text>
<text transform="translate(548.28 653.00) rotate(-90) scale(1.08 1)" font-size="9.3" text-anchor="end" fill="#000" stroke="#000" stroke-width="0.1">03-Αυγ</text>
<text transform="translate(556.53 653.00) rotate(-90) scale(1.08 1)" font-size="9.3" text-anchor="end" fill="#000" stroke="#000" stroke-width="0.1">04-Αυγ</text>
<text transform="translate(564.78 653.00) rotate(-90) scale(1.08 1)" font-size="9.3" text-anchor="end" fill="#000" stroke="#000" stroke-width="0.1">05-Αυγ</text>
<text transform="translate(573.04 653.00) rotate(-90) scale(1.08 1)" font-size="9.3" text-anchor="end" fill="#000" stroke="#000" stroke-width="0.1">06-Αυγ</text>
<text transform="translate(581.29 653.00) rotate(-90) scale(1.08 1)" font-size="9.3" text-anchor="end" fill="#000" stroke="#000" stroke-width="0.1">07-Αυγ</text>
<text transform="translate(589.54 653.00) rotate(-90) scale(1.08 1)" font-size="9.3" text-anchor="end" fill="#000" stroke="#000" stroke-width="0.1">08-Αυγ</text>
<text transform="translate(597.80 653.00) rotate(-90) scale(1.08 1)" font-size="9.3" text-anchor="end" fill="#000" stroke="#000" stroke-width="0.1">09-Αυγ</text>
<text transform="translate(606.05 653.00) rotate(-90) scale(1.08 1)" font-size="9.3" text-anchor="end" fill="#000" stroke="#000" stroke-width="0.1">10-Αυγ</text>
<text transform="translate(614.30 653.00) rotate(-90) scale(1.08 1)" font-size="9.3" text-anchor="end" fill="#000" stroke="#000" stroke-width="0.1">11-Αυγ</text>
<text transform="translate(622.56 653.00) rotate(-90) scale(1.08 1)" font-size="9.3" text-anchor="end" fill="#000" stroke="#000" stroke-width="0.1">12-Αυγ</text>
<text transform="translate(630.81 653.00) rotate(-90) scale(1.08 1)" font-size="9.3" text-anchor="end" fill="#000" stroke="#000" stroke-width="0.1">13-Αυγ</text>
<text transform="translate(639.06 653.00) rotate(-90) scale(1.08 1)" font-size="9.3" text-anchor="end" fill="#000" stroke="#000" stroke-width="0.1">14-Αυγ</text>
<text transform="translate(647.32 653.00) rotate(-90) scale(1.08 1)" font-size="9.3" text-anchor="end" fill="#000" stroke="#000" stroke-width="0.1">15-Αυγ</text>
<text transform="translate(655.57 653.00) rotate(-90) scale(1.08 1)" font-size="9.3" text-anchor="end" fill="#000" stroke="#000" stroke-width="0.1">16-Αυγ</text>
<text transform="translate(663.82 653.00) rotate(-90) scale(1.08 1)" font-size="9.3" text-anchor="end" fill="#000" stroke="#000" stroke-width="0.1">17-Αυγ</text>
<text transform="translate(672.08 653.00) rotate(-90) scale(1.08 1)" font-size="9.3" text-anchor="end" fill="#000" stroke="#000" stroke-width="0.1">18-Αυγ</text>
<text transform="translate(680.33 653.00) rotate(-90) scale(1.08 1)" font-size="9.3" text-anchor="end" fill="#000" stroke="#000" stroke-width="0.1">19-Αυγ</text>
<text transform="translate(688.59 653.00) rotate(-90) scale(1.08 1)" font-size="9.3" text-anchor="end" fill="#000" stroke="#000" stroke-width="0.1">20-Αυγ</text>
<text transform="translate(696.84 653.00) rotate(-90) scale(1.08 1)" font-size="9.3" text-anchor="end" fill="#000" stroke="#000" stroke-width="0.1">21-Αυγ</text>
<text transform="translate(705.09 653.00) rotate(-90) scale(1.08 1)" font-size="9.3" text-anchor="end" fill="#000" stroke="#000" stroke-width="0.1">22-Αυγ</text>
<text transform="translate(713.35 653.00) rotate(-90) scale(1.08 1)" font-size="9.3" text-anchor="end" fill="#000" stroke="#000" stroke-width="0.1">23-Αυγ</text>
<text transform="translate(721.60 653.00) rotate(-90) scale(1.08 1)" font-size="9.3" text-anchor="end" fill="#000" stroke="#000" stroke-width="0.1">24-Αυγ</text>
<text transform="translate(729.85 653.00) rotate(-90) scale(1.08 1)" font-size="9.3" text-anchor="end" fill="#000" stroke="#000" stroke-width="0.1">25-Αυγ</text>
<text transform="translate(738.11 653.00) rotate(-90) scale(1.08 1)" font-size="9.3" text-anchor="end" fill="#000" stroke="#000" stroke-width="0.1">26-Αυγ</text>
<text transform="translate(746.36 653.00) rotate(-90) scale(1.08 1)" font-size="9.3" text-anchor="end" fill="#000" stroke="#000" stroke-width="0.1">27-Αυγ</text>
<text transform="translate(754.61 653.00) rotate(-90) scale(1.08 1)" font-size="9.3" text-anchor="end" fill="#000" stroke="#000" stroke-width="0.1">28-Αυγ</text>
<text transform="translate(762.87 653.00) rotate(-90) scale(1.08 1)" font-size="9.3" text-anchor="end" fill="#000" stroke="#000" stroke-width="0.1">29-Αυγ</text>
<text transform="translate(771.12 653.00) rotate(-90) scale(1.08 1)" font-size="9.3" text-anchor="end" fill="#000" stroke="#000" stroke-width="0.1">30-Αυγ</text>
<text transform="translate(779.37 653.00) rotate(-90) scale(1.08 1)" font-size="9.3" text-anchor="end" fill="#000" stroke="#000" stroke-width="0.1">31-Αυγ</text>
<text transform="translate(787.63 653.00) rotate(-90) scale(1.08 1)" font-size="9.3" text-anchor="end" fill="#000" stroke="#000" stroke-width="0.1">01-Σεπ</text>
<text transform="translate(795.88 653.00) rotate(-90) scale(1.08 1)" font-size="9.3" text-anchor="end" fill="#000" stroke="#000" stroke-width="0.1">02-Σεπ</text>
<text transform="translate(804.13 653.00) rotate(-90) scale(1.08 1)" font-size="9.3" text-anchor="end" fill="#000" stroke="#000" stroke-width="0.1">03-Σεπ</text>
<text transform="translate(812.39 653.00) rotate(-90) scale(1.08 1)" font-size="9.3" text-anchor="end" fill="#000" stroke="#000" stroke-width="0.1">04-Σεπ</text>
<text transform="translate(820.64 653.00) rotate(-90) scale(1.08 1)" font-size="9.3" text-anchor="end" fill="#000" stroke="#000" stroke-width="0.1">05-Σεπ</text>
<text transform="translate(828.90 653.00) rotate(-90) scale(1.08 1)" font-size="9.3" text-anchor="end" fill="#000" stroke="#000" stroke-width="0.1">06-Σεπ</text>
<text transform="translate(837.15 653.00) rotate(-90) scale(1.08 1)" font-size="9.3" text-anchor="end" fill="#000" stroke="#000" stroke-width="0.1">07-Σεπ</text>
<text transform="translate(845.40 653.00) rotate(-90) scale(1.08 1)" font-size="9.3" text-anchor="end" fill="#000" stroke="#000" stroke-width="0.1">08-Σεπ</text>
<text transform="translate(853.66 653.00) rotate(-90) scale(1.08 1)" font-size="9.3" text-anchor="end" fill="#000" stroke="#000" stroke-width="0.1">09-Σεπ</text>
<text transform="translate(861.91 653.00) rotate(-90) scale(1.08 1)" font-size="9.3" text-anchor="end" fill="#000" stroke="#000" stroke-width="0.1">10-Σεπ</text>
<text transform="translate(870.16 653.00) rotate(-90) scale(1.08 1)" font-size="9.3" text-anchor="end" fill="#000" stroke="#000" stroke-width="0.1">11-Σεπ</text>
<text transform="translate(878.42 653.00) rotate(-90) scale(1.08 1)" font-size="9.3" text-anchor="end" fill="#000" stroke="#000" stroke-width="0.1">12-Σεπ</text>
<text transform="translate(886.67 653.00) rotate(-90) scale(1.08 1)" font-size="9.3" text-anchor="end" fill="#000" stroke="#000" stroke-width="0.1">13-Σεπ</text>
<text transform="translate(894.92 653.00) rotate(-90) scale(1.08 1)" font-size="9.3" text-anchor="end" fill="#000" stroke="#000" stroke-width="0.1">14-Σεπ</text>
<text transform="translate(903.18 653.00) rotate(-90) scale(1.08 1)" font-size="9.3" text-anchor="end" fill="#000" stroke="#000" stroke-width="0.1">15-Σεπ</text>
<text transform="translate(911.43 653.00) rotate(-90) scale(1.08 1)" font-size="9.3" text-anchor="end" fill="#000" stroke="#000" stroke-width="0.1">16-Σεπ</text>
<text transform="translate(919.68 653.00) rotate(-90) scale(1.08 1)" font-size="9.3" text-anchor="end" fill="#000" stroke="#000" stroke-width="0.1">17-Σεπ</text>
<text transform="translate(927.94 653.00) rotate(-90) scale(1.08 1)" font-size="9.3" text-anchor="end" fill="#000" stroke="#000" stroke-width="0.1">18-Σεπ</text>
<text transform="translate(936.19 653.00) rotate(-90) scale(1.08 1)" font-size="9.3" text-anchor="end" fill="#000" stroke="#000" stroke-width="0.1">19-Σεπ</text>
<text transform="translate(944.44 653.00) rotate(-90) scale(1.08 1)" font-size="9.3" text-anchor="end" fill="#000" stroke="#000" stroke-width="0.1">20-Σεπ</text>
<text transform="translate(952.70 653.00) rotate(-90) scale(1.08 1)" font-size="9.3" text-anchor="end" fill="#000" stroke="#000" stroke-width="0.1">21-Σεπ</text>
<text transform="translate(960.95 653.00) rotate(-90) scale(1.08 1)" font-size="9.3" text-anchor="end" fill="#000" stroke="#000" stroke-width="0.1">22-Σεπ</text>
<text transform="translate(969.21 653.00) rotate(-90) scale(1.08 1)" font-size="9.3" text-anchor="end" fill="#000" stroke="#000" stroke-width="0.1">23-Σεπ</text>
<text transform="translate(977.46 653.00) rotate(-90) scale(1.08 1)" font-size="9.3" text-anchor="end" fill="#000" stroke="#000" stroke-width="0.1">24-Σεπ</text>
<text transform="translate(985.71 653.00) rotate(-90) scale(1.08 1)" font-size="9.3" text-anchor="end" fill="#000" stroke="#000" stroke-width="0.1">25-Σεπ</text>
<text transform="translate(993.97 653.00) rotate(-90) scale(1.08 1)" font-size="9.3" text-anchor="end" fill="#000" stroke="#000" stroke-width="0.1">26-Σεπ</text>
<text transform="translate(1002.22 653.00) rotate(-90) scale(1.08 1)" font-size="9.3" text-anchor="end" fill="#000" stroke="#000" stroke-width="0.1">27-Σεπ</text>
<text transform="translate(1010.47 653.00) rotate(-90) scale(1.08 1)" font-size="9.3" text-anchor="end" fill="#000" stroke="#000" stroke-width="0.1">28-Σεπ</text>
<text x="576.5" y="743.7" font-size="19.8" font-weight="bold" text-anchor="middle" fill="#000">Ημερομηνία</text>
<text transform="translate(122.8 387.3) rotate(-90) scale(0.99 1)" font-size="19.5" font-weight="bold" text-anchor="middle" fill="#000">Σχετικός Ρυθμός Έκκρισης Ιικού Φορτίου</text>
</svg></body></html>
